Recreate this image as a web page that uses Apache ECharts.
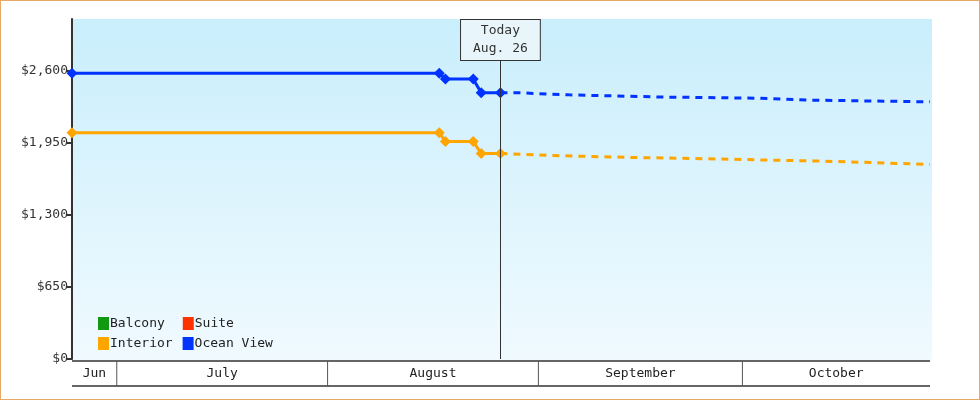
<!DOCTYPE html>
<html><head><meta charset="utf-8">
<script src="https://cdn.jsdelivr.net/npm/echarts@6/dist/echarts.min.js"></script>
<style>html,body{margin:0;padding:0;background:#fff}#c{width:978px;height:398px;border:1px solid #e8a868}</style>
</head><body><div id="c"></div>
<script>
var yTicks = [0, 650, 1300, 1950, 2600];
var months = ['Jun', 'July', 'August', 'September', 'October'];
var monthBounds = ['2024-06-24 10:00', '2024-07-01', '2024-08-01', '2024-09-01', '2024-10-01', '2024-10-28 14:00'];
var today = '2024-08-26 10:00';
var oceanPast = [['2024-06-24 10:00', 2580], ['2024-08-17 10:00', 2580], ['2024-08-18 08:00', 2528], ['2024-08-22 10:00', 2528], ['2024-08-23 14:00', 2403], ['2024-08-26 10:00', 2403]];
var oceanFuture = [['2024-08-26 10:00', 2403], ['2024-08-29 08:00', 2403], ['2024-09-05 12:00', 2385], ['2024-09-19 12:00', 2365], ['2024-10-03 12:00', 2355], ['2024-10-10 12:00', 2338], ['2024-10-28 14:00', 2322]];
var interiorPast = [['2024-06-24 10:00', 2044], ['2024-08-17 10:00', 2044], ['2024-08-18 08:00', 1963], ['2024-08-22 10:00', 1963], ['2024-08-23 14:00', 1856], ['2024-08-26 10:00', 1856]];
var interiorFuture = [['2024-08-26 10:00', 1856], ['2024-09-02 12:00', 1838], ['2024-09-14 12:00', 1820], ['2024-09-23 12:00', 1811], ['2024-10-07 12:00', 1793], ['2024-10-14 12:00', 1784], ['2024-10-28 14:00', 1757]];

var F = 'DejaVu Sans Mono';
var chart = echarts.init(document.getElementById('c'));
function solid(name, color, data, extra) {
  var s = {name: name, type: 'line', data: data, color: color, symbol: 'diamond', symbolSize: 11,
    lineStyle: {width: 3, color: color}, itemStyle: {color: color}, z: 3, animation: false};
  return Object.assign(s, extra || {});
}
function dashed(name, color, data) {
  return {name: name, type: 'line', data: data, color: color, showSymbol: false,
    lineStyle: {width: 3, type: [7, 6], color: color}, z: 3, animation: false};
}
chart.setOption({
  animation: false,
  textStyle: {fontFamily: F},
  grid: {left: 71, right: 49, top: 18, bottom: 40},
  legend: [
    {data: ['Balcony', 'Suite'], left: 92, top: 311, itemWidth: 11, itemHeight: 13, itemGap: 18, icon: 'rect',
      textStyle: {fontFamily: F, fontSize: 13, color: '#222', padding: [0, 0, 0, -4]}},
    {data: ['Interior', 'Ocean View'], left: 92, top: 331, itemWidth: 11, itemHeight: 13, itemGap: 10, icon: 'rect',
      textStyle: {fontFamily: F, fontSize: 13, color: '#222', padding: [0, 0, 0, -4]}}
  ],
  xAxis: {type: 'time', min: monthBounds[0], max: monthBounds[5],
    axisLine: {show: false}, axisTick: {show: false}, axisLabel: {show: false}, splitLine: {show: false}},
  yAxis: {type: 'value', min: 0, max: 3070, interval: 650,
    axisLine: {show: true, lineStyle: {color: '#333', width: 2}},
    axisTick: {show: true, length: 5, lineStyle: {color: '#333', width: 2}},
    axisLabel: {fontFamily: F, fontSize: 13, color: '#333', margin: 4, showMaxLabel: false,
      formatter: function (v) { return yTicks.indexOf(v) >= 0 ? '$' + v.toLocaleString('en-US') : ''; }},
    splitLine: {show: false}},
  series: [
    {name: 'Balcony', type: 'line', data: [], color: '#119911'},
    {name: 'Suite', type: 'line', data: [], color: '#ff3300'},
    solid('Interior', '#ffa500', interiorPast),
    dashed('Interior', '#ffa500', interiorFuture),
    solid('Ocean View', '#0033ff', oceanPast, {
      markLine: {silent: true, symbol: 'none', animation: false,
        lineStyle: {color: '#333', width: 1, type: 'solid'},
        label: {show: true, position: 'end', distance: 0, formatter: 'Today\nAug. 26', fontFamily: F, fontSize: 13, color: '#333',
          backgroundColor: '#e8f6fc', borderColor: '#333', borderWidth: 1, padding: [2, 12, 2, 12], lineHeight: 18},
        data: [[{coord: [today, 0]}, {coord: [today, 2700]}]]}}),
    dashed('Ocean View', '#0033ff', oceanFuture)
  ]
});
var bg = {type: 'rect', z: -10, silent: true, shape: {x: 71, y: 18, width: 860, height: 342},
  style: {fill: new echarts.graphic.LinearGradient(0, 0, 0, 1, [{offset: 0, color: '#c9eefc'}, {offset: 1, color: '#f0faff'}])}};
var els = [bg];
var px = monthBounds.map(function (d) { return chart.convertToPixel({xAxisIndex: 0}, d); });
els.push({type: 'line', shape: {x1: px[0], y1: 385, x2: px[5], y2: 385}, style: {stroke: '#333', lineWidth: 1.5}});
els.push({type: 'line', shape: {x1: px[0], y1: 360, x2: px[5], y2: 360}, style: {stroke: '#333', lineWidth: 1.5}});
for (var i = 1; i < 5; i++) {
  els.push({type: 'line', shape: {x1: px[i], y1: 360, x2: px[i], y2: 385}, style: {stroke: '#555', lineWidth: 1}});
}
for (var j = 0; j < 5; j++) {
  els.push({type: 'text', x: (px[j] + px[j + 1]) / 2, y: 373, style: {text: months[j], fontFamily: F, fontSize: 13, fill: '#222', align: 'center', verticalAlign: 'middle'}});
}
chart.setOption({graphic: els});
</script></body></html>
